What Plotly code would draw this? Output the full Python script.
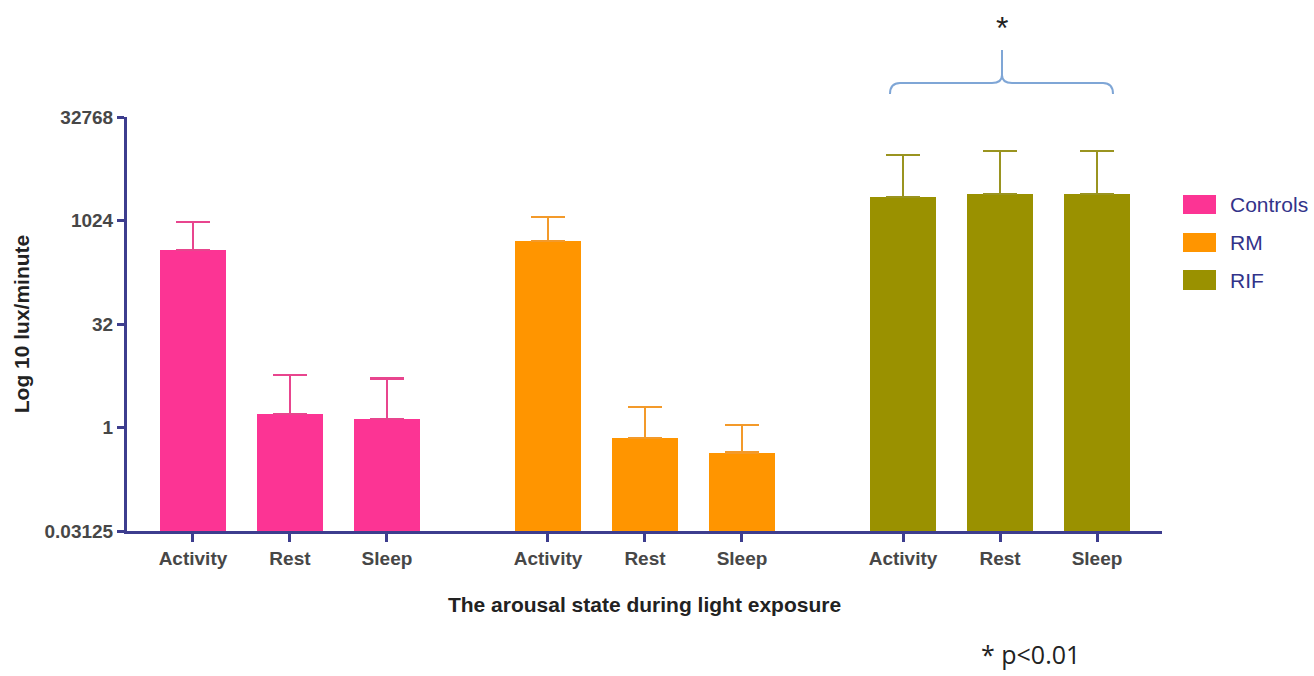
import math
import plotly.graph_objects as go

# ---- data -------------------------------------------------------------
groups = ["Controls", "RM", "RIF"]
states = ["Activity", "Rest", "Sleep"]
colors = ["#FC3494", "#FF9500", "#9A9100"]
err_colors = ["#E8458E", "#F39A2A", "#9A9420"]

# mean light exposure (lux/minute) per arousal state
controls_mean = [380, 1.57, 1.33]
rm_mean = [515, 0.70, 0.43]
rif_mean = [2250, 2490, 2490]

# upper end of the error bar (mean + SD)
controls_upper = [975, 5.8, 5.2]
rm_upper = [1150, 1.98, 1.09]
rif_upper = [9170, 10500, 10500]

y_ticks = [0.03125, 1, 32, 1024, 32768]
y_tick_text = ["0.03125", "1", "32", "1024", "32768"]

means = [controls_mean, rm_mean, rif_mean]
uppers = [controls_upper, rm_upper, rif_upper]

# ---- layout geometry ---------------------------------------------------
W, H = 1314, 676
L, R, T, B = 127, 1162, 117, 531      # plot area in pixels
GROUP_GAP = 0.66                       # extra space between groups (bar units)
BAR_W = 0.69

def px(x):
    return (x - L) / (R - L)

def py(y):
    return (B - y) / (B - T)

AXIS = "#3D3D8E"
SANS = "Liberation Sans, Arial"
TICK_FONT = dict(family=SANS, size=19, color="#474747", weight="bold")

fig = go.Figure()
tick_pos, tick_txt = [], []
for gi, g in enumerate(groups):
    xs = [gi * (len(states) + GROUP_GAP) + i for i in range(len(states))]
    tick_pos += xs
    tick_txt += states
    fig.add_trace(go.Bar(
        x=xs, y=means[gi], name=g, width=BAR_W,
        marker=dict(color=colors[gi], line=dict(width=0)),
        error_y=dict(type="data", symmetric=False,
                     array=[u - m for u, m in zip(uppers[gi], means[gi])],
                     arrayminus=[0] * len(states),
                     color=err_colors[gi], thickness=2.5, width=17),
        showlegend=False,
    ))

# ---- legend drawn as swatches + labels --------------------------------
shapes = []
annotations = []
legend_rows = [(195, 214), (233, 252), (270, 290)]
for (y0, y1), g, c in zip(legend_rows, groups, colors):
    shapes.append(dict(type="rect", xref="paper", yref="paper",
                       x0=px(1183), x1=px(1216), y0=py(y1), y1=py(y0),
                       fillcolor=c, line=dict(width=0)))
    annotations.append(dict(xref="paper", yref="paper", x=px(1228), y=py((y0 + y1) / 2),
                            text=g, showarrow=False, xanchor="left", yanchor="middle",
                            font=dict(family=SANS, size=21, color="#33338A")))

# ---- significance brace over the RIF group -----------------------------
pts = [
    ("M", 890, 94), ("Q", 890, 83, 900, 83), ("L", 992, 83), ("Q", 1002, 83, 1002, 75),
    ("L", 1002, 50), ("M", 1002, 75), ("Q", 1002, 83, 1012, 83), ("L", 1103, 83),
    ("Q", 1113, 83, 1113, 94),
]
path = ""
for p in pts:
    cmd, coords = p[0], p[1:]
    xy = []
    for k in range(0, len(coords), 2):
        xy.append(f"{px(coords[k]):.5f},{py(coords[k + 1]):.5f}")
    path += cmd + " " + " ".join(xy) + " "
shapes.append(dict(type="path", xref="paper", yref="paper", path=path.strip(),
                   line=dict(color="#7FA6D6", width=2)))

annotations.append(dict(xref="paper", yref="paper", x=px(1002), y=py(28), text="*",
                        showarrow=False, xanchor="center", yanchor="middle",
                        font=dict(family=SANS, size=32, color="#222222")))
annotations.append(dict(xref="paper", yref="paper", x=px(979), y=py(654), text="* p<0.01",
                        showarrow=False, xanchor="left", yanchor="middle",
                        font=dict(family="Open Sans, Noto Sans", size=25, color="#222222")))

fig.update_layout(
    width=W, height=H,
    margin=dict(l=L, r=W - R, t=T, b=H - B, pad=0),
    paper_bgcolor="white", plot_bgcolor="white",
    bargap=0,
    shapes=shapes, annotations=annotations,
    xaxis=dict(
        range=[-0.68, 9.99], tickvals=tick_pos, ticktext=tick_txt,
        showgrid=False, zeroline=False,
        showline=True, linecolor=AXIS, linewidth=3,
        ticks="outside", ticklen=8, tickwidth=3, tickcolor=AXIS,
        tickfont=TICK_FONT,
        title=dict(text="The arousal state during light exposure", standoff=30,
                   font=dict(family=SANS, size=21, color="#222222", weight="bold")),
    ),
    yaxis=dict(
        type="log", range=[math.log10(y_ticks[0]), math.log10(y_ticks[-1])],
        tickvals=y_ticks, ticktext=y_tick_text,
        showgrid=False, zeroline=False,
        showline=True, linecolor=AXIS, linewidth=3,
        ticks="outside", ticklen=7, tickwidth=3, tickcolor=AXIS,
        tickfont=TICK_FONT,
        title=dict(text="Log 10 lux/minute", standoff=10,
                   font=dict(family=SANS, size=21, color="#222222", weight="bold")),
    ),
)

fig.write_html("out.html")
